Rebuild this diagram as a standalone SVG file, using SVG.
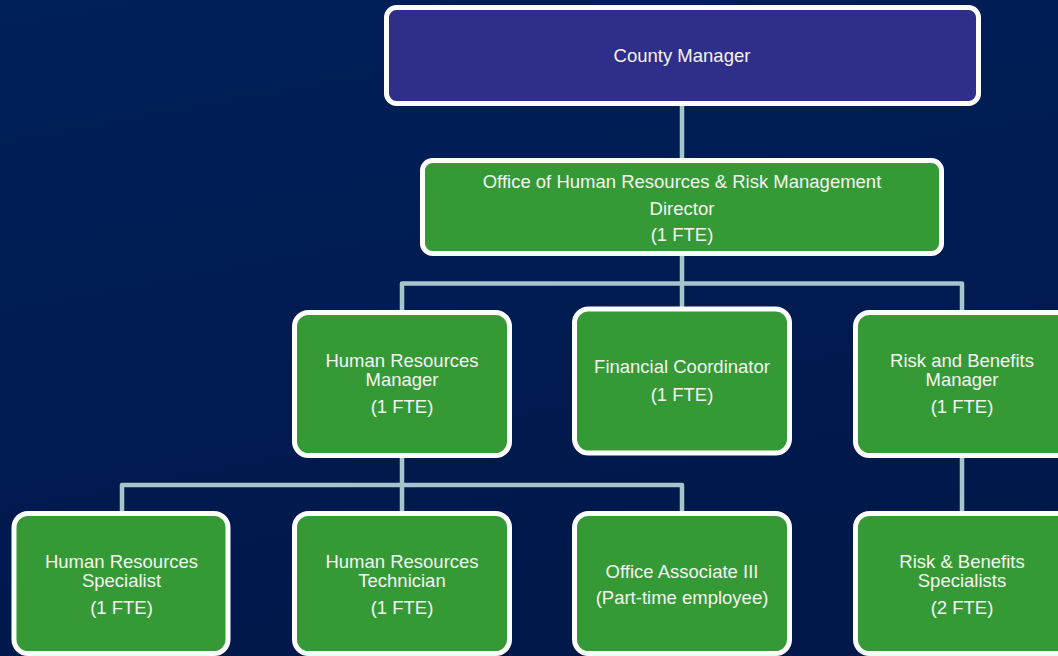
<svg xmlns="http://www.w3.org/2000/svg" width="1058" height="656" viewBox="0 0 1058 656">
<defs>
<linearGradient id="bg" x1="0" y1="0" x2="0.3" y2="1">
<stop offset="0" stop-color="#00205a"/>
<stop offset="1" stop-color="#00184a"/>
</linearGradient>
</defs>
<style>
.box{fill:#359a35;stroke:#ffffff;stroke-width:5}
.top{fill:#2f2e8b;stroke:#ffffff;stroke-width:5}
.conn{fill:none;stroke:#a5c5cc;stroke-width:4.5;stroke-linejoin:round}
text{font-family:"Liberation Sans",Arial,sans-serif;font-size:18.5px;fill:#f4f4f4;text-anchor:middle}
</style>
<rect x="0" y="0" width="1058" height="656" fill="url(#bg)"/>
<g id="connectors">
<path class="conn" d="M682 104 V160"/>
<path class="conn" d="M682 254 V309"/>
<path class="conn" d="M402 312 V283.5 H962 V312"/>
<path class="conn" d="M402 456 V513"/>
<path class="conn" d="M122 513 V485 H682 V513"/>
<path class="conn" d="M962 456 V513"/>
</g>
<g id="county-manager">
<rect class="top" x="386.5" y="7.5" width="592" height="96" rx="10"/>
<text x="682" y="61.5">County Manager</text>
</g>
<g id="director">
<rect class="box" x="422.5" y="160.5" width="519" height="93" rx="10"/>
<text x="682" y="187.5">Office of Human Resources &amp; Risk Management</text>
<text x="682" y="214.5">Director</text>
<text x="682" y="241">(1 FTE)</text>
</g>
<g id="hr-manager">
<rect class="box" x="294.5" y="312.5" width="215" height="143" rx="14"/>
<text x="402" y="367.3">Human Resources</text>
<text x="402" y="386">Manager</text>
<text x="402" y="413.3">(1 FTE)</text>
</g>
<g id="financial-coordinator">
<rect class="box" x="574.5" y="309" width="215" height="144" rx="14"/>
<text x="682" y="373.3">Financial Coordinator</text>
<text x="682" y="400.7">(1 FTE)</text>
</g>
<g id="risk-manager">
<rect class="box" x="855.5" y="312.5" width="215" height="143" rx="14"/>
<text x="962" y="366.7">Risk and Benefits</text>
<text x="962" y="386">Manager</text>
<text x="962" y="413.3">(1 FTE)</text>
</g>
<g id="hr-specialist">
<rect class="box" x="14" y="513.5" width="214" height="140" rx="14"/>
<text x="121.5" y="567.7">Human Resources</text>
<text x="121.5" y="586.7">Specialist</text>
<text x="121.5" y="614">(1 FTE)</text>
</g>
<g id="hr-technician">
<rect class="box" x="294.5" y="513.5" width="215" height="140" rx="14"/>
<text x="402" y="567.7">Human Resources</text>
<text x="402" y="586.7">Technician</text>
<text x="402" y="614">(1 FTE)</text>
</g>
<g id="office-associate">
<rect class="box" x="574.5" y="513.5" width="215" height="140" rx="14"/>
<text x="682" y="578.3">Office Associate III</text>
<text x="682" y="604.3">(Part-time employee)</text>
</g>
<g id="risk-specialists">
<rect class="box" x="855.5" y="513.5" width="215" height="140" rx="14"/>
<text x="962" y="567.7">Risk &amp; Benefits</text>
<text x="962" y="586.7">Specialists</text>
<text x="962" y="614.3">(2 FTE)</text>
</g>
</svg>
